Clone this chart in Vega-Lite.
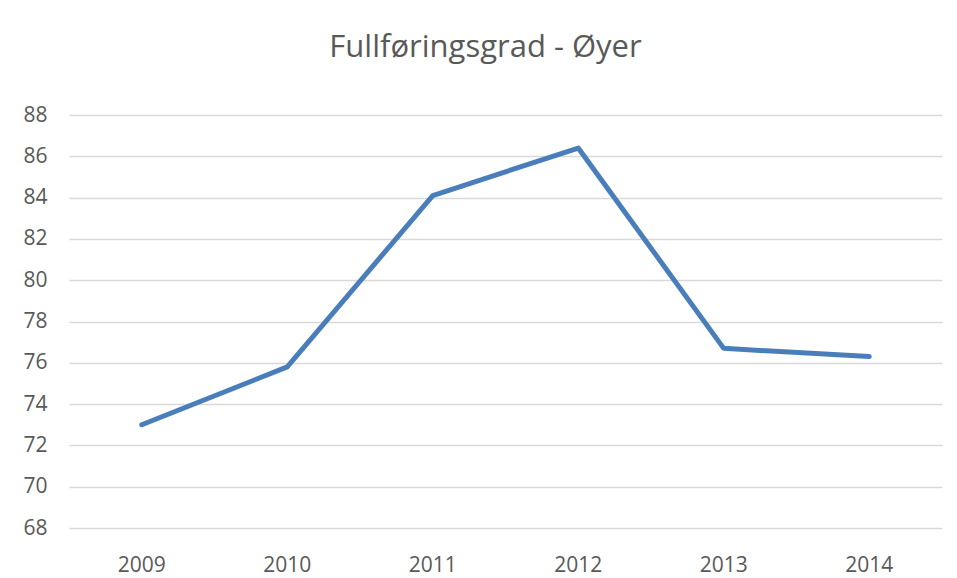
{
  "$schema": "https://vega.github.io/schema/vega-lite/v6.json",
  "autosize": "none",
  "width": 873,
  "height": 413,
  "padding": {"left": 69, "top": 115, "right": 15, "bottom": 50},
  "background": "white",
  "config": {"view": {"stroke": null}, "font": "Open Sans"},
  "title": {
    "text": "Fullføringsgrad - Øyer",
    "fontSize": 31,
    "font": "Open Sans",
    "fontWeight": "normal",
    "color": "#595959",
    "anchor": "middle",
    "dx": -20,
    "offset": 40
  },
  "data": {
    "values": [
      {"year": "2009", "value": 73.0},
      {"year": "2010", "value": 75.8},
      {"year": "2011", "value": 84.1},
      {"year": "2012", "value": 86.4},
      {"year": "2013", "value": 76.7},
      {"year": "2014", "value": 76.3}
    ]
  },
  "mark": {"type": "line", "color": "#4A7EBB", "strokeWidth": 5, "strokeCap": "round", "strokeJoin": "round"},
  "encoding": {
    "x": {
      "field": "year",
      "type": "ordinal",
      "scale": {"type": "band", "paddingInner": 0, "paddingOuter": 0},
      "axis": {
        "title": null,
        "labelAngle": 0,
        "labelFontSize": 21,
        "labelColor": "#595959",
        "labelPadding": 26,
        "ticks": false,
        "domain": false,
        "grid": false
      }
    },
    "y": {
      "field": "value",
      "type": "quantitative",
      "scale": {"domain": [68, 88], "nice": false, "zero": false},
      "axis": {
        "title": null,
        "values": [68, 70, 72, 74, 76, 78, 80, 82, 84, 86, 88],
        "labelFontSize": 21,
        "labelColor": "#595959",
        "labelPadding": 22,
        "ticks": false,
        "domain": false,
        "gridColor": "#d9d9d9",
        "gridWidth": 1.5
      }
    }
  }
}
